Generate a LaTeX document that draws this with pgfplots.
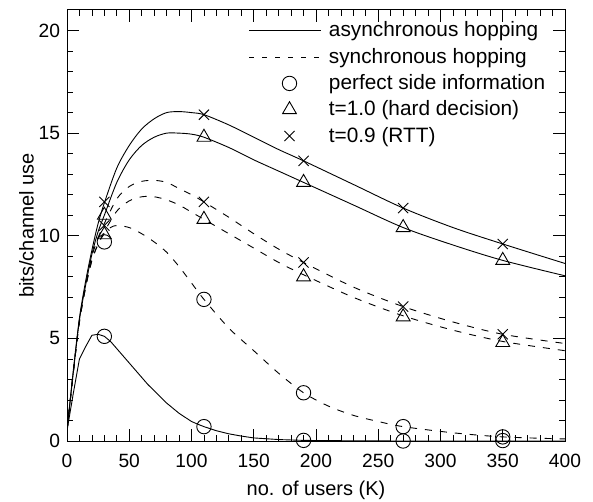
\documentclass[border=0pt]{standalone}
\usepackage{fontspec}
\setmainfont{Liberation Sans}
\usepackage{pgfplots}
\pgfplotsset{compat=1.18}
\pgfplotsset{
 linelegend/.style={legend image code/.code={\draw[##1] (0pt,0pt) -- (36pt,0pt); \path (37.5pt,0pt);}},
 marklegend/.style={legend image code/.code={\draw[##1] plot coordinates {(20pt,0pt)}; \path (0pt,0pt) (37.5pt,0pt);}},
}
\begin{document}
\begin{tikzpicture}
\useasboundingbox (-33.5pt,-30.5pt) rectangle (263pt,220.5pt);
\begin{axis}[
 at={(0,0)}, anchor=south west,
 scale only axis, width=249pt, height=215.5pt,
 xmin=0, xmax=400, ymin=0, ymax=21,
 xtick={0,50,...,400}, ytick={0,5,10,15,20},
 minor x tick num=4, minor y tick num=4,
 tick align=inside, major tick length=6pt, minor tick length=3pt,
 tick style={black, line width=0.4pt},
 axis line style={line width=0.5pt},
 /pgf/number format/assume math mode=true,
 font=\fontsize{10}{12}\selectfont,
 tick label style={font=\fontsize{9.6}{11}\selectfont},
 xticklabel style={yshift=-3pt},
 xlabel={no. of users (K)}, ylabel={bits/channel use},
 ylabel style={yshift=-4.5pt},
 legend style={draw=none, fill=none, at={(axis description cs:0.981,0.992)}, anchor=north east,
   cells={anchor=west}, row sep=0.1pt, font=\fontsize{10.4}{12}\selectfont},
 every axis plot/.append style={black, line width=0.45pt},
]
\addlegendimage{black, line width=0.45pt, linelegend}
\addlegendentry{asynchronous hopping}
\addlegendimage{black, line width=0.45pt, dash pattern=on 2.5pt off 4pt, linelegend}
\addlegendentry{synchronous hopping}
\addlegendimage{black, only marks, mark=o, mark size=3.6pt, marklegend}
\addlegendentry{perfect side information}
\addlegendimage{black, only marks, mark=triangle, mark size=4pt, marklegend}
\addlegendentry{t=1.0 (hard decision)}
\addlegendimage{black, only marks, mark=x, mark size=3.6pt, marklegend}
\addlegendentry{t=0.9 (RTT)}

% asynchronous, RTT
\addplot[smooth, forget plot] coordinates {
(0,0.5)(5,3.4)(10,6.0)(15,7.8)(20,9.3)(25,10.6)(30,11.6)(40,13.3)(50,14.4)(60,15.2)(70,15.7)(80,16.0)(90,16.05)(100,16.0)(110,15.9)(130,15.4)(150,14.8)(170,14.2)(190,13.65)(230,12.5)(270,11.35)(310,10.4)(350,9.6)(400,8.65)};
% asynchronous, t=1.0
\addplot[smooth, forget plot] coordinates {
(0,0.5)(5,3.3)(10,5.9)(15,7.6)(20,9.1)(25,10.2)(30,11.0)(40,12.6)(50,13.7)(60,14.4)(70,14.8)(80,15.0)(90,15.0)(100,14.95)(110,14.8)(130,14.3)(150,13.7)(170,13.15)(190,12.6)(230,11.5)(270,10.4)(310,9.55)(350,8.8)(400,8.05)};
% asynchronous, perfect
\addplot[forget plot] coordinates {
(0,0.5)(5,2.3)(10,4.0)(15,4.6)(20,5.15)(25,5.2)(30,5.1)(35,4.85)(40,4.5)(45,4.15)(50,3.8)(55,3.45)(60,3.1)(65,2.75)(70,2.45)(75,2.15)(80,1.85)(85,1.6)(90,1.35)(95,1.15)(100,0.95)(105,0.82)(110,0.7)(120,0.5)(130,0.35)(140,0.24)(150,0.15)(170,0.07)(190,0.03)(230,0.01)(270,0.0)(400,0.0)};
% synchronous, RTT
\addplot[smooth, forget plot, dash pattern=on 3.5pt off 4pt] coordinates {
(0,0.5)(5,3.3)(10,5.9)(15,7.6)(20,9.0)(25,9.9)(30,10.6)(40,11.8)(50,12.4)(60,12.65)(70,12.7)(80,12.6)(90,12.3)(100,12.0)(110,11.65)(130,10.9)(150,10.1)(170,9.35)(190,8.7)(230,7.5)(270,6.55)(310,5.8)(350,5.2)(400,4.75)};
% synchronous, t=1.0
\addplot[smooth, forget plot, dash pattern=on 3.5pt off 4pt] coordinates {
(0,0.5)(5,3.3)(10,5.8)(15,7.5)(20,8.8)(25,9.6)(30,10.2)(40,11.2)(50,11.7)(60,11.9)(70,11.9)(80,11.75)(90,11.5)(100,11.15)(110,10.8)(130,10.1)(150,9.4)(170,8.7)(190,8.1)(230,7.0)(270,6.1)(310,5.4)(350,4.85)(400,4.4)};
% synchronous, perfect
\addplot[smooth, forget plot, dash pattern=on 3.5pt off 4pt] coordinates {
(0,0.5)(5,3.3)(10,5.8)(15,7.5)(20,8.8)(25,9.6)(30,10.1)(35,10.4)(40,10.5)(50,10.4)(60,10.1)(70,9.7)(80,9.2)(90,8.5)(100,7.7)(110,6.9)(130,5.5)(150,4.4)(170,3.3)(190,2.35)(210,1.7)(230,1.25)(250,0.95)(270,0.7)(310,0.4)(350,0.2)(400,0.1)};

% markers: perfect side information
\addplot[only marks, mark=o, mark size=3.6pt, forget plot] coordinates {
(30,5.1)(110,0.7)(190,0.03)(270,0.0)(350,0.02)
(30,9.7)(110,6.9)(190,2.35)(270,0.7)(350,0.2)};
% markers: t=1.0
\addplot[only marks, mark=triangle, mark size=4pt, forget plot] coordinates {
(30,11.0)(110,14.8)(190,12.6)(270,10.4)(350,8.8)
(30,10.05)(110,10.8)(190,8.0)(270,6.05)(350,4.8)};
% markers: t=0.9 (RTT)
\addplot[only marks, mark=x, mark size=3.6pt, forget plot] coordinates {
(30,11.65)(110,15.9)(190,13.65)(270,11.35)(350,9.6)
(30,10.5)(110,11.65)(190,8.7)(270,6.55)(350,5.2)};
\end{axis}
\end{tikzpicture}
\end{document}
